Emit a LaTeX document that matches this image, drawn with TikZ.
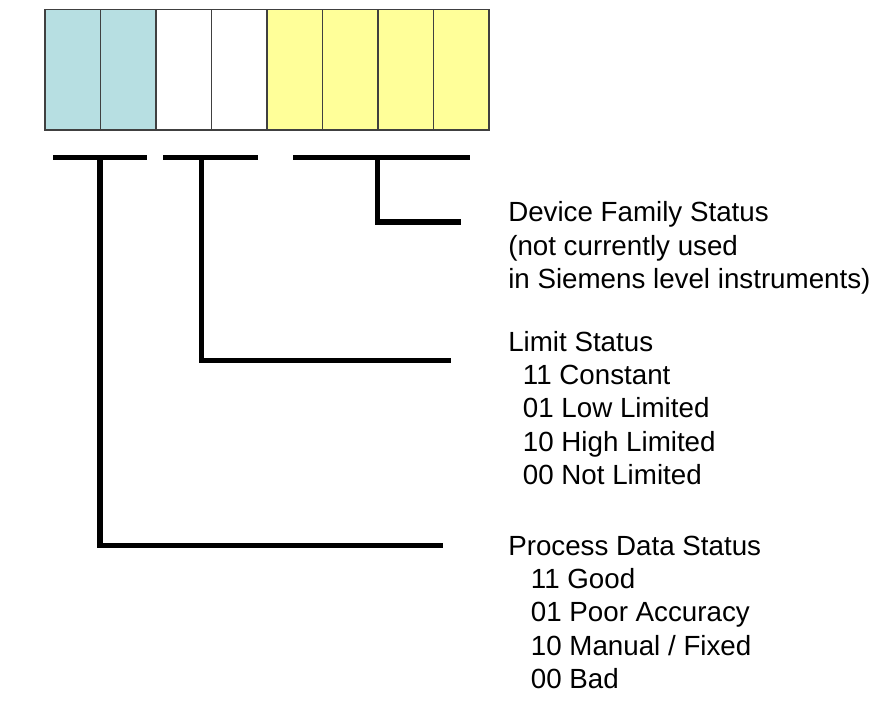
\documentclass[tikz,border=0pt]{standalone}
\usepackage{fontspec}
\setmainfont{Liberation Sans}
\usepackage{tikz}
\usepackage{xcolor}
\usetikzlibrary{positioning}
\definecolor{bitblue}{RGB}{183,223,226}
\definecolor{bityellow}{RGB}{255,255,153}
\definecolor{bitedge}{RGB}{64,64,64}
\tikzset{
	bitcell/.style={draw=bitedge, line width=1.1pt, minimum width=41.6pt, minimum height=90.5pt, inner sep=0pt, outer sep=0pt, anchor=north west},
	bracket/.style={line width=3.9pt},
	statustext/.style={anchor=base west, align=left, inner sep=0pt, font=\fontsize{20.8}{25}\selectfont}
}

\begin{document}
\begin{tikzpicture}[x=0.75pt,y=-0.75pt]
		\useasboundingbox (0,0) rectangle (888,713);
		% the eight status bits
		\foreach \i/\c in {0/bitblue,1/bitblue,2/white,3/white,4/bityellow,5/bityellow,6/bityellow,7/bityellow}
			\node[bitcell, fill=\c] (bit\i) at (45+55.5*\i,9.5) {};
		% brackets under the bit groups
		\coordinate (procL) at (53,157.5);
		\coordinate (procR) at (147,157.5);
		\coordinate (limL) at (163,157.5);
		\coordinate (limR) at (258,157.5);
		\coordinate (famL) at (293,157.5);
		\coordinate (famR) at (470,157.5);
		\draw[bracket] (procL) -- (procR);
		\draw[bracket] (limL) -- (limR);
		\draw[bracket] (famL) -- (famR);
		% texts (anchored at the baseline of the last line)
		\node[statustext] (famtext) at (508,288.5) {Device Family Status\\(not currently used\\in Siemens level instruments)};
		\node[statustext] (limtext) at (508,484.5) {Limit Status\\\hspace*{11pt}11 Constant\\\hspace*{11pt}01 Low Limited\\\hspace*{11pt}10 High Limited\\\hspace*{11pt}00 Not Limited};
		\node[statustext] (proctext) at (508,688.5) {Process Data Status\\\hspace*{17pt}11 Good\\\hspace*{17pt}01 Poor Accuracy\\\hspace*{17pt}10 Manual / Fixed\\\hspace*{17pt}00 Bad};
		% leaders
		\coordinate (famS) at (377.5,157.5);
		\coordinate (famE) at (461,222);
		\coordinate (limS) at (201.5,157.5);
		\coordinate (limE) at (451,360.5);
		\coordinate (procS) at (100,157.5);
		\coordinate (procE) at (443,545.5);
		\draw[bracket] (famS) |- (famE);
		\draw[bracket] (limS) |- (limE);
		\draw[bracket] (procS) |- (procE);
	\end{tikzpicture}
\end{document}
